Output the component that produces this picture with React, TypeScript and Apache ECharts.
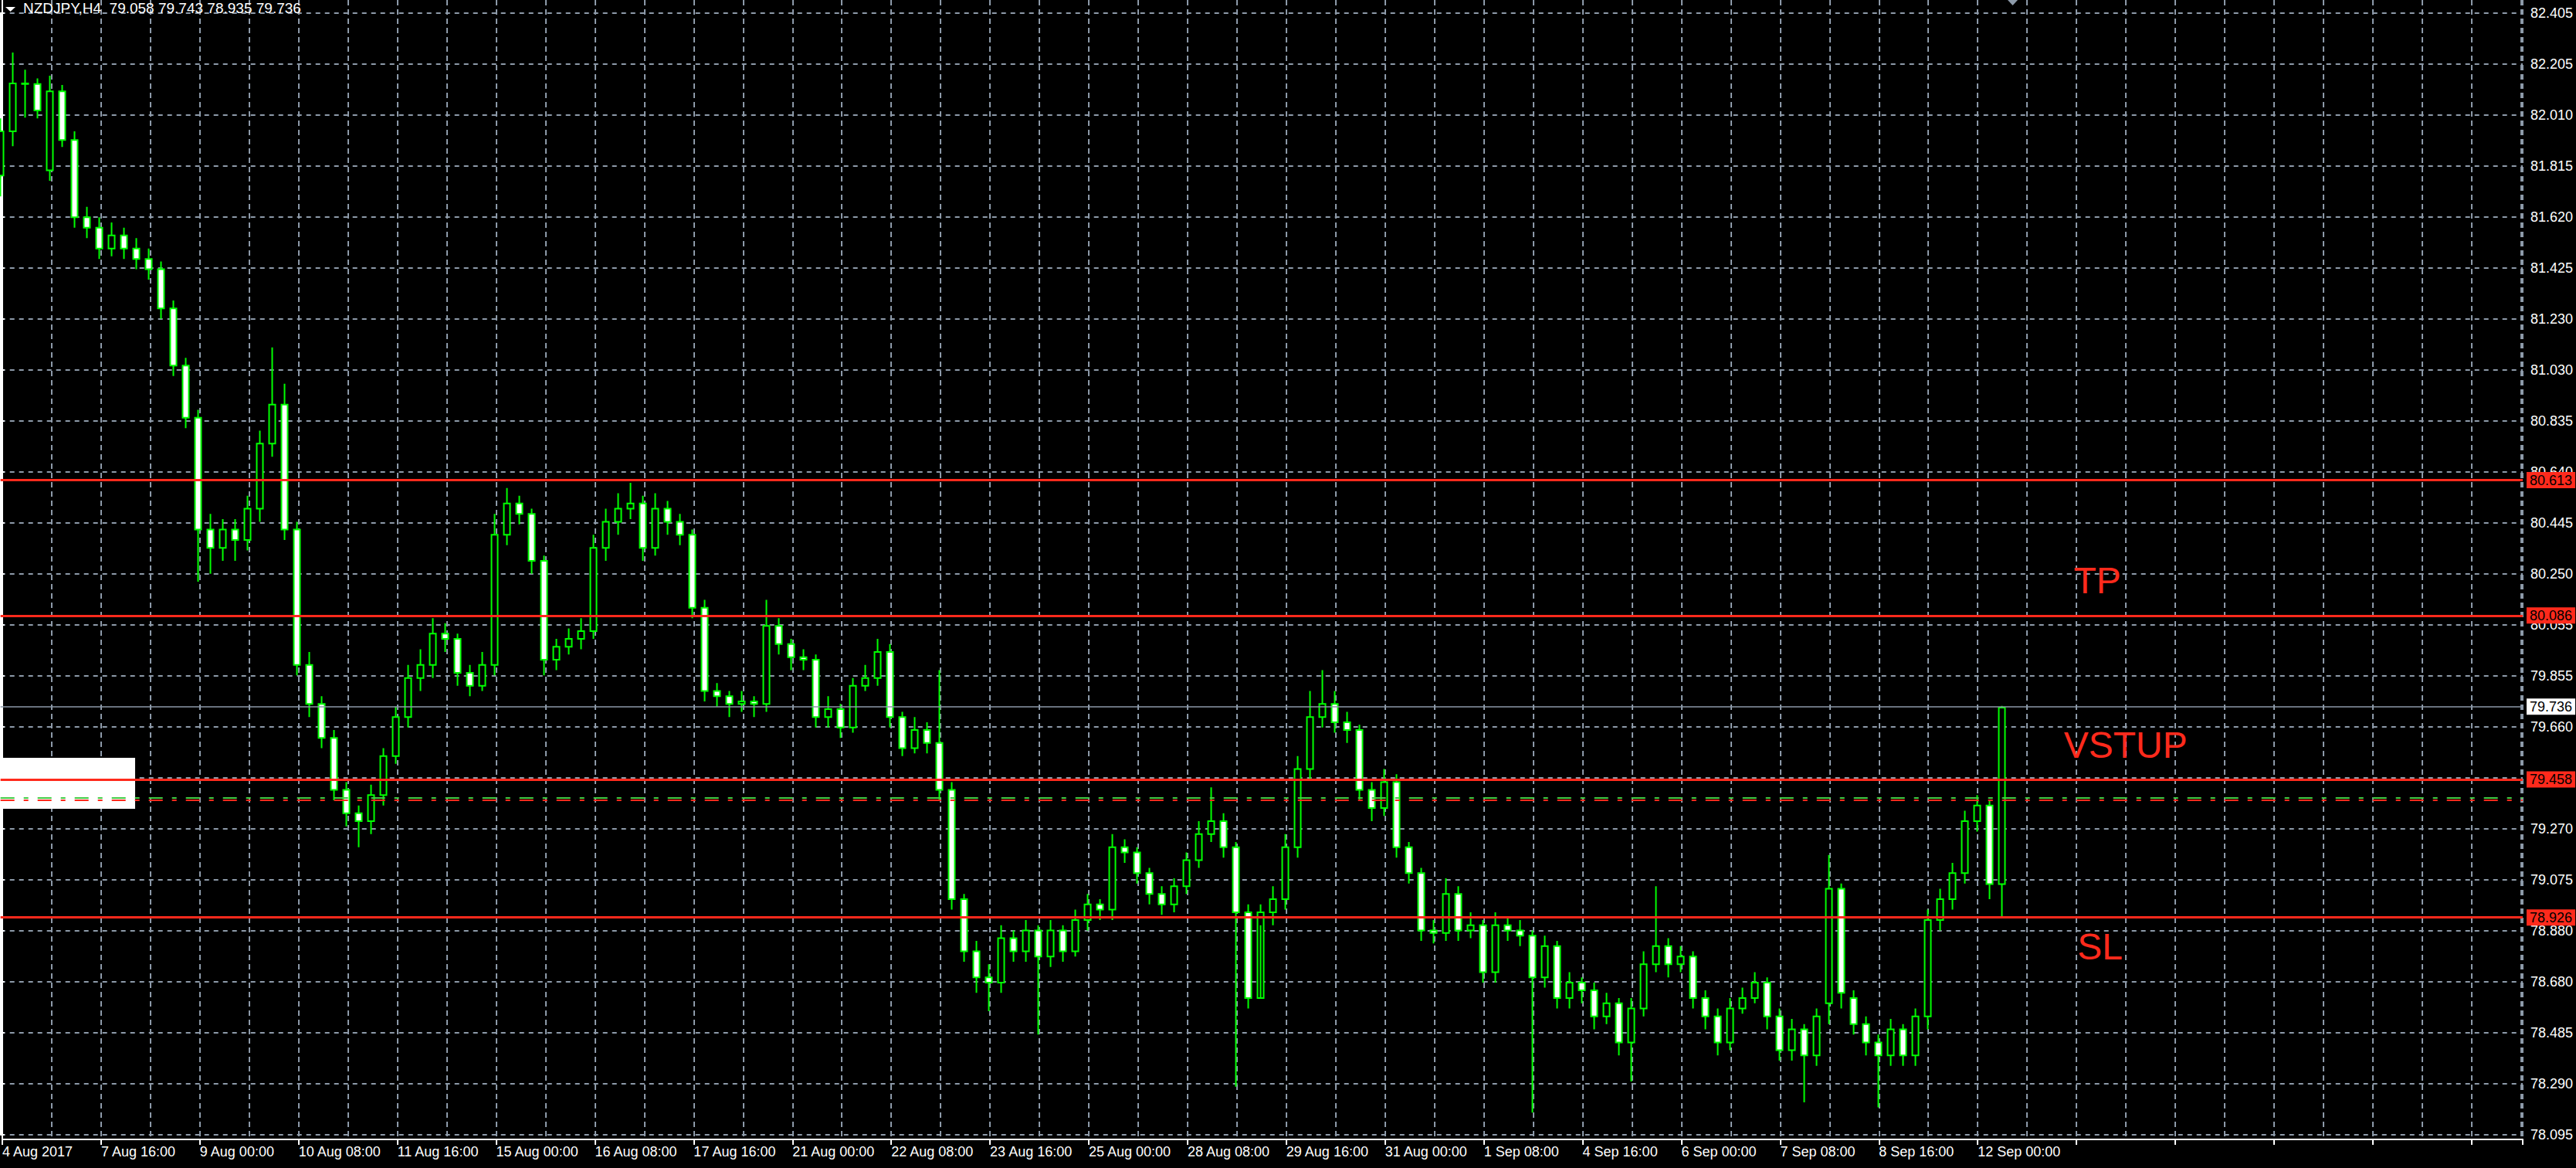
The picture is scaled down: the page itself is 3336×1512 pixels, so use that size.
import React, { useEffect, useRef } from "react";
import * as echarts from "echarts";

const titleText = "NZDJPY,H4  79.058 79.743 78.935 79.736";

const timeLabels = ["4 Aug 2017","7 Aug 16:00","9 Aug 00:00","10 Aug 08:00","11 Aug 16:00","15 Aug 00:00","16 Aug 08:00","17 Aug 16:00","21 Aug 00:00","22 Aug 08:00","23 Aug 16:00","25 Aug 00:00","28 Aug 08:00","29 Aug 16:00","31 Aug 00:00","1 Sep 08:00","4 Sep 16:00","6 Sep 00:00","7 Sep 08:00","8 Sep 16:00","12 Sep 00:00"];

const priceLabels = ["78.095","78.290","78.485","78.680","78.880","79.075","79.270","79.465","79.660","79.855","80.055","80.250","80.445","80.640","80.835","81.030","81.230","81.425","81.620","81.815","82.010","82.205","82.405"];

const opens = [
81.78,81.95,82.134,82.132,81.80,82.104,81.917,81.62,81.58,81.50,
81.55,81.50,81.46,81.42,81.27,81.05,80.85,80.42,80.35,80.42,
80.38,80.50,80.75,80.90,80.42,79.90,79.75,79.62,79.42,79.33,
79.30,79.40,79.55,79.70,79.85,79.90,80.02,80.00,79.87,79.82,
79.90,80.40,80.52,80.48,80.30,79.92,79.97,80.00,80.03,80.35,
80.45,80.50,80.52,80.35,80.50,80.45,80.40,80.12,79.80,79.78,
79.75,79.76,79.75,80.05,79.98,79.93,79.92,79.70,79.73,79.66,
79.82,79.85,79.95,79.70,79.58,79.65,79.60,79.42,79.00,78.80,
78.70,78.68,78.85,78.80,78.88,78.78,78.88,78.80,78.92,78.98,
78.96,79.20,79.18,79.10,79.02,78.98,79.05,79.15,79.25,79.30,
79.20,78.95,78.62,78.95,79.00,79.20,79.50,79.70,79.75,79.68,
79.65,79.42,79.35,79.45,79.20,79.10,78.88,78.87,79.02,78.88,
78.90,78.72,78.90,78.88,78.86,78.70,78.82,78.62,78.68,78.65,
78.55,78.60,78.45,78.58,78.75,78.82,78.75,78.78,78.62,78.55,
78.45,78.58,78.62,78.68,78.55,78.42,78.50,78.40,78.60,79.04,
78.62,78.52,78.45,78.40,78.50,78.40,78.55,78.92,79.00,79.10,
79.30,79.36,79.058];

const closes = [
81.95,82.134,82.132,82.03,82.104,81.917,81.62,81.58,81.50,81.55,
81.50,81.46,81.42,81.27,81.05,80.85,80.42,80.35,80.42,80.38,
80.50,80.75,80.90,80.42,79.90,79.75,79.62,79.42,79.33,79.30,
79.40,79.55,79.70,79.85,79.90,80.02,80.00,79.87,79.82,79.90,
80.40,80.52,80.48,80.30,79.92,79.97,80.00,80.03,80.35,80.45,
80.50,80.52,80.35,80.50,80.45,80.40,80.12,79.80,79.78,79.75,
79.76,79.75,80.05,79.98,79.93,79.92,79.70,79.73,79.66,79.82,
79.85,79.95,79.70,79.58,79.65,79.60,79.42,79.00,78.80,78.70,
78.68,78.85,78.80,78.88,78.78,78.88,78.80,78.92,78.98,78.96,
79.20,79.18,79.10,79.02,78.98,79.05,79.15,79.25,79.30,79.20,
78.95,78.62,78.95,79.00,79.20,79.50,79.70,79.75,79.68,79.65,
79.42,79.35,79.45,79.20,79.10,78.88,78.87,79.02,78.88,78.90,
78.72,78.90,78.88,78.86,78.70,78.82,78.62,78.68,78.65,78.55,
78.60,78.45,78.58,78.75,78.82,78.75,78.78,78.62,78.55,78.45,
78.58,78.62,78.68,78.55,78.42,78.50,78.40,78.55,79.04,78.64,
78.52,78.45,78.40,78.50,78.40,78.55,78.92,79.00,79.10,79.30,
79.36,79.058,79.736];

const highs = [
82.0,82.253,82.187,82.153,82.164,82.128,81.95,81.66,81.62,81.60,
81.58,81.54,81.50,81.45,81.30,81.08,80.88,80.48,80.46,80.46,
80.55,80.80,81.12,80.98,80.45,79.95,79.78,79.65,79.45,79.36,
79.44,79.58,79.74,79.90,79.96,80.08,80.06,80.02,79.90,79.95,
80.48,80.58,80.55,80.50,80.32,80.00,80.04,80.08,80.40,80.50,
80.56,80.60,80.55,80.56,80.53,80.48,80.42,80.15,79.83,79.80,
79.80,79.78,80.15,80.08,80.00,79.96,79.94,79.78,79.75,79.85,
79.90,80.00,79.98,79.72,79.70,79.68,79.88,79.45,79.02,78.84,
78.75,78.90,78.88,78.92,78.90,78.92,78.90,78.96,79.02,79.00,
79.25,79.23,79.20,79.12,79.05,79.08,79.18,79.30,79.43,79.33,
79.22,78.98,78.98,79.05,79.25,79.55,79.80,79.88,79.80,79.72,
79.67,79.45,79.50,79.48,79.22,79.12,78.92,79.08,79.05,78.95,
78.92,78.95,78.93,78.92,78.88,78.86,78.84,78.72,78.70,78.68,
78.64,78.62,78.62,78.80,79.05,78.85,78.82,78.80,78.65,78.58,
78.62,78.66,78.72,78.70,78.58,78.54,78.52,78.58,79.17,79.06,
78.65,78.55,78.48,78.54,78.52,78.58,78.96,79.04,79.14,79.34,
79.40,79.38,79.743];

const lows = [
81.70,81.893,82.003,82.00,81.76,81.89,81.58,81.54,81.46,81.47,
81.46,81.42,81.38,81.23,81.01,80.81,80.22,80.25,80.30,80.30,
80.34,80.45,80.70,80.38,79.86,79.70,79.58,79.38,79.28,79.20,
79.25,79.36,79.52,79.66,79.80,79.85,79.95,79.82,79.78,79.80,
79.86,80.36,80.44,80.25,79.86,79.88,79.94,79.96,80.00,80.30,
80.40,80.46,80.30,80.32,80.40,80.36,80.08,79.76,79.74,79.70,
79.72,79.70,79.72,79.94,79.88,79.88,79.66,79.66,79.62,79.64,
79.80,79.82,79.66,79.55,79.56,79.56,79.38,78.96,78.76,78.64,
78.57,78.64,78.76,78.76,78.48,78.74,78.76,78.78,78.88,78.92,
78.92,79.14,79.06,78.98,78.94,78.95,79.02,79.12,79.22,79.16,
78.28,78.58,78.90,78.90,78.96,79.16,79.46,79.66,79.64,79.60,
79.38,79.30,79.32,79.16,79.06,78.84,78.83,78.84,78.84,78.85,
78.68,78.68,78.84,78.82,78.18,78.66,78.58,78.58,78.60,78.50,
78.52,78.40,78.30,78.55,78.72,78.70,78.72,78.58,78.50,78.40,
78.42,78.56,78.60,78.50,78.38,78.38,78.22,78.36,78.52,78.58,
78.48,78.40,78.20,78.36,78.36,78.36,78.50,78.88,78.96,79.06,
79.26,79.00,78.935];

const levelUpper = 80.613;
const levelTP = 80.086;
const levelEntry = 79.458;
const levelSL = 78.926;
const bidPrice = 79.736;
const orderGreen = 79.395;
const orderRed = 79.383;

const textLabels = [
  { text: "TP", bar: 167.8, price: 80.223 },
  { text: "VSTUP", bar: 167.0, price: 79.591 },
  { text: "SL", bar: 168.1, price: 78.818 },
];

const Y_MIN = 78.095;
const Y_MAX = 82.405;
const Y_STEP = (Y_MAX - Y_MIN) / 22;
const X_MAX = (3267 - 0.7) / 16;

const RED = "#ff2a1c";
const GRID = "#8d9aa9";
const GREEN = "#00ff00";
const FONT = "'Liberation Sans', Arial, sans-serif";

export default function App() {
  const ref = useRef<HTMLDivElement>(null);
  useEffect(() => {
    document.body.style.margin = "0";
    document.body.style.background = "#000";
    const chart = echarts.init(ref.current!, null, { renderer: "svg" });
    const rows = closes.map((c, i) => [i, opens[i], c, lows[i], highs[i]]);

    const redLine = (v: number) => ({
      yAxis: v,
      lineStyle: { color: RED, width: 3, type: "solid" },
      label: {
        show: true, position: "end", distance: 5, formatter: v.toFixed(3),
        backgroundColor: RED, color: "#000", padding: [2, 4, 1, 4],
        fontSize: 18, fontFamily: FONT,
      },
    });

    const option: any = {
      animation: false,
      backgroundColor: "#000",
      grid: [
        { left: 0.7, right: 69, top: 16.7, height: 1452.3 },
        { left: 0.7, right: 69, top: 0, height: 1475 },
      ],
      xAxis: [
        { type: "value", gridIndex: 0, min: 0, max: X_MAX, show: false },
        {
          type: "value", gridIndex: 1, min: 0, max: X_MAX, interval: 8, position: "bottom",
          axisLine: { show: true, lineStyle: { color: "#fff", width: 2 } },
          axisTick: { show: true, length: 7, lineStyle: { color: "#fff", width: 2 } },
          splitLine: { show: false },
          axisLabel: {
            show: true, color: "#fff", fontSize: 18, fontFamily: FONT, align: "left", margin: 7,
            formatter: (v: number) => {
              const k = Math.round(v / 8);
              return Math.abs(v - k * 8) < 1e-6 ? timeLabels[k] ?? "" : "";
            },
          },
        },
        {
          type: "value", gridIndex: 1, min: 0, max: X_MAX, interval: 4, position: "top",
          axisLine: { show: false }, axisTick: { show: false }, axisLabel: { show: false },
          splitLine: { show: true, lineStyle: { color: GRID, width: 2, type: [7, 5] } },
        },
      ],
      yAxis: [
        {
          type: "value", gridIndex: 0, position: "right", min: Y_MIN, max: Y_MAX, interval: Y_STEP,
          axisLine: { show: true, lineStyle: { color: "#fff", width: 2 } },
          axisTick: { show: true, length: 5, lineStyle: { color: "#fff", width: 2 } },
          splitLine: { show: true, lineStyle: { color: GRID, width: 2, type: [6, 6] } },
          axisLabel: {
            show: true, color: "#fff", fontSize: 18, fontFamily: FONT, margin: 10,
            formatter: (v: number) => {
              const k = Math.round((v - Y_MIN) / Y_STEP);
              return Math.abs(v - (Y_MIN + k * Y_STEP)) < 1e-6 ? priceLabels[k] ?? "" : "";
            },
          },
        },
        {
          type: "value", gridIndex: 1, position: "right", min: 0, max: 1,
          axisLine: { show: true, lineStyle: { color: "#fff", width: 2 } },
          axisTick: { show: false }, axisLabel: { show: false }, splitLine: { show: false },
        },
      ],
      series: [
        {
          type: "candlestick",
          xAxisIndex: 0, yAxisIndex: 0,
          data: rows,
          encode: { x: 0, y: [1, 2, 3, 4] },
          barWidth: 8,
          itemStyle: { color: "#000", color0: "#fff", borderColor: GREEN, borderColor0: GREEN, borderWidth: 2 },
          markLine: {
            silent: true, symbol: ["none", "none"],
            data: [
              redLine(levelUpper), redLine(levelTP), redLine(levelEntry), redLine(levelSL),
              {
                yAxis: bidPrice,
                lineStyle: { color: "#8c99a8", width: 1.5, type: "solid" },
                label: {
                  show: true, position: "end", distance: 5, formatter: bidPrice.toFixed(3),
                  backgroundColor: "#fff", color: "#000", padding: [2, 4, 1, 4],
                  fontSize: 18, fontFamily: FONT,
                },
              },
              { yAxis: orderGreen, lineStyle: { color: "#44cc44", width: 2, type: [18, 12, 6, 12] }, label: { show: false } },
              { yAxis: orderRed, lineStyle: { color: RED, width: 2, type: [18, 12, 6, 12] }, label: { show: false } },
            ],
          },
          markPoint: {
            silent: true, symbol: "circle", symbolSize: 0,
            data: textLabels.map((t) => ({
              coord: [t.bar, t.price],
              label: { show: true, position: "right", distance: 0, formatter: t.text, color: RED, fontSize: 48, fontFamily: FONT },
            })),
          },
        },
      ],
      graphic: [
        { type: "rect", z: 1, shape: { x: 0, y: 981, width: 175, height: 66 }, style: { fill: "#fff" } },
        { type: "polygon", z: 10, shape: { points: [[7, 9], [20, 9], [13.5, 15]] }, style: { fill: "#fff" } },
        { type: "polygon", z: 10, shape: { points: [[2600, 0], [2613, 0], [2606.5, 7]] }, style: { fill: GRID } },
        { type: "text", z: 10, x: 30, y: 1, style: { text: titleText, fill: "#fff", font: `19px ${FONT}`, textVerticalAlign: "top" } },
      ],
    };
    chart.setOption(option);
    return () => chart.dispose();
  }, []);
  return <div ref={ref} style={{ position: "absolute", left: 0, top: 0, width: 3336, height: 1512, background: "#000" }} />;
}
